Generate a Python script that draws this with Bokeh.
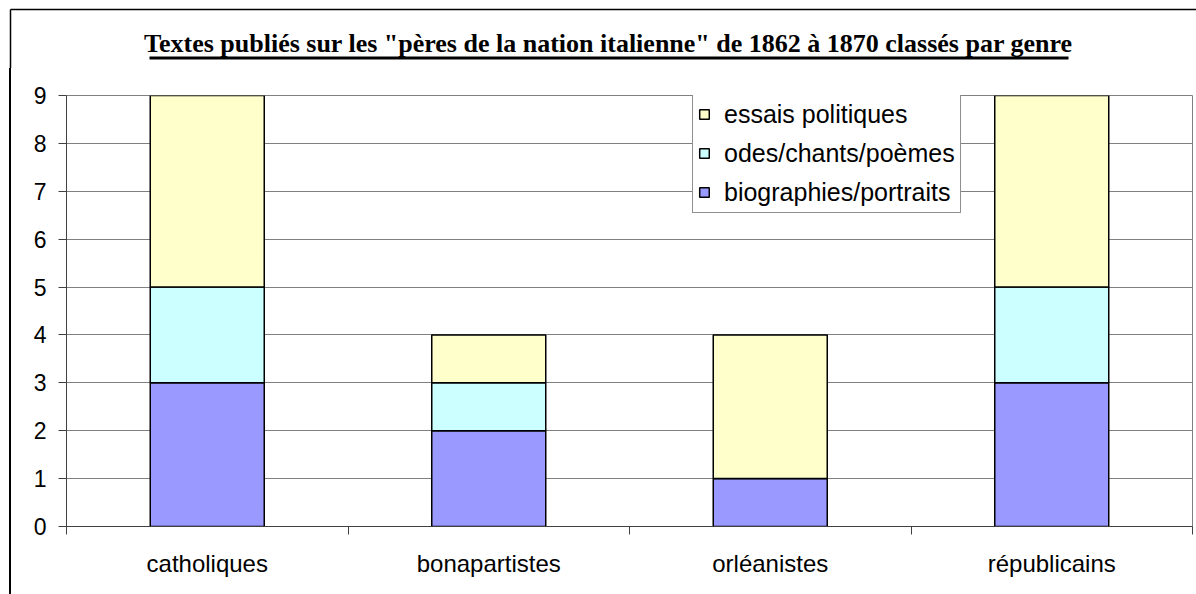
from bokeh.plotting import figure
from bokeh.layouts import column, row
from bokeh.models import (FixedTicker, Legend, LegendItem, ColumnDataSource, Range1d, Spacer)
from bokeh.core.properties import value
from bokeh.embed import file_html
from bokeh.resources import INLINE

categories = ["catholiques", "bonapartistes", "orléanistes", "républicains"]
biographies = [3, 2, 1, 3]
odes = [2, 1, 0, 2]
essais = [4, 1, 3, 4]
series_names = ["biographies/portraits", "odes/chants/poèmes", "essais politiques"]
colors = ["#9999FF", "#CCFFFF", "#FFFFCC"]
title_text = 'Textes publiés sur les "pères de la nation italienne" de 1862 à 1870 classés par genre'
y_ticks = list(range(0, 10))

W, H = 1196, 594
HEAD_H = 68
STRIP_W = 20


def blank(width, height):
    f = figure(width=width, height=height, output_backend="svg", toolbar_location=None,
               x_range=Range1d(0, width), y_range=Range1d(height, 0),
               x_axis_location=None, y_axis_location=None, min_border=0)
    f.outline_line_color = None
    f.background_fill_color = "white"
    f.border_fill_color = "white"
    f.grid.grid_line_color = None
    return f


# ---- header: title, underline, top and left border of the chart area
head = blank(W, HEAD_H)
head.segment(x0=[10, 10], y0=[9, 9], x1=[W, 10], y1=[9, HEAD_H],
             line_color="black", line_width=1.5)
head.text(x=[608], y=[43], text=[title_text], text_align="center",
          text_baseline="alphabetic", text_font=value("Liberation Serif"),
          text_font_style="bold", text_font_size="26px", text_color="black")
head.quad(left=[149], right=[1068], top=[56], bottom=[59],
          fill_color="black", line_color=None)

# ---- left strip carrying the chart border (drawn as a CSS background line)
strip = Spacer(width=STRIP_W, height=H - HEAD_H,
               styles={"background": "linear-gradient(to right, white 9.5px, black 9.5px, "
                                     "black 11px, white 11px)"})

# ---- chart
xs = [i + 0.5 for i in range(len(categories))]
src = ColumnDataSource(dict(x=xs, bio=biographies, odes=odes, essais=essais))

p = figure(width=W - STRIP_W, height=H - HEAD_H, output_backend="svg", toolbar_location=None,
           x_range=(0, len(categories)), y_range=(0, 9),
           min_border_left=66 - STRIP_W, min_border_right=4,
           min_border_top=95 - HEAD_H, min_border_bottom=68)
p.background_fill_color = "white"
p.border_fill_color = "white"
p.outline_line_color = "#808080"
p.outline_line_width = 1

r = p.vbar_stack(["bio", "odes", "essais"], x="x", width=0.405, source=src,
                 fill_color=colors, line_color="black", line_width=1.5)

p.xaxis.ticker = FixedTicker(ticks=xs, minor_ticks=list(range(len(categories) + 1)))
p.xaxis.major_label_overrides = {x: c for x, c in zip(xs, categories)}
p.xaxis.major_tick_line_color = None
p.xaxis.minor_tick_line_color = "#404040"
p.xaxis.minor_tick_out = 8
p.xaxis.minor_tick_in = 0
p.xaxis.axis_line_color = "#404040"
p.xaxis.major_label_text_font = "Liberation Sans"
p.xaxis.major_label_text_font_size = "24px"
p.xaxis.major_label_text_color = "black"
p.xaxis.major_label_standoff = 15

p.yaxis.ticker = FixedTicker(ticks=y_ticks, minor_ticks=[])
p.yaxis.major_tick_out = 8
p.yaxis.major_tick_in = 0
p.yaxis.major_tick_line_color = "#404040"
p.yaxis.axis_line_color = "#404040"
p.yaxis.major_label_text_font = "Liberation Sans"
p.yaxis.major_label_text_font_size = "23px"
p.yaxis.major_label_text_color = "black"
p.yaxis.major_label_standoff = 12

p.xgrid.grid_line_color = None
p.ygrid.grid_line_color = "#808080"
p.ygrid.grid_line_width = 1

items = [LegendItem(label=series_names[i], renderers=[r[i]]) for i in (2, 1, 0)]
legend = Legend(items=items, location=(626, 313))
legend.label_text_font = "Liberation Sans"
legend.label_text_font_size = "25px"
legend.label_text_color = "black"
legend.glyph_width = 12
legend.glyph_height = 12
legend.label_standoff = 14
legend.label_height = 30
legend.spacing = 9
legend.padding = 5
legend.margin = 0
legend.border_line_color = "#202020"
legend.border_line_width = 1
legend.background_fill_alpha = 1
p.add_layout(legend)

layout = column(head, row(strip, p, spacing=0), spacing=0)
open("out.html", "w").write(file_html(layout, INLINE))
